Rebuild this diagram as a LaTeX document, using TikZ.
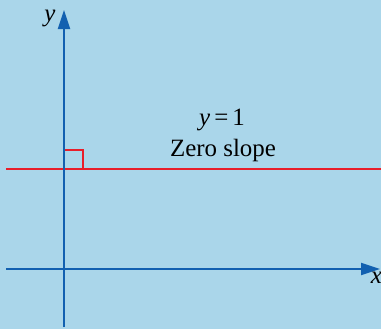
\documentclass[tikz,border=0pt]{standalone}
\usepackage{fontspec}
\setmainfont{Liberation Serif}
\usetikzlibrary{arrows.meta}
\definecolor{bgblue}{RGB}{170,214,234}
\definecolor{axblue}{RGB}{18,96,176}
\definecolor{lnred}{RGB}{232,30,42}
\tikzset{
  axis/.style={axblue,line width=2bp,-{Triangle[length=19bp,width=12bp]}},
  redline/.style={draw=lnred,line width=2bp},
  lbl/.style={inner sep=0pt,font=\fontsize{25}{30}\selectfont},
}
\begin{document}
\begin{tikzpicture}[x=1bp,y=-1bp]
\fill[bgblue] (0,0) rectangle (381,329);
\useasboundingbox (0,0) rectangle (381,329);
\coordinate (xaxL) at (6,269);
\coordinate (xaxR) at (380,269);
\coordinate (yaxB) at (64,327);
\coordinate (yaxT) at (64,10);
\coordinate (redL) at (6,169);
\coordinate (redR) at (381,169);
\coordinate (sqA) at (64,169);
\coordinate (sqB) at (83,150);
\draw[redline] (sqA) rectangle (sqB);
\draw[redline] (redL) -- (redR);
\draw[axis] (xaxL) -- (xaxR);
\draw[axis] (yaxB) -- (yaxT);
\node[lbl,anchor=base] (xl) at (376.5,283) {\textit{x}};
\node[lbl,anchor=base] (yl) at (50,21) {\textit{y}};
\node[lbl,anchor=base] (eq) at (222,125) {\textit{y}\,=\,1};
\node[lbl,anchor=base] (zs) at (223,156) {Zero slope};
\end{tikzpicture}
\end{document}
